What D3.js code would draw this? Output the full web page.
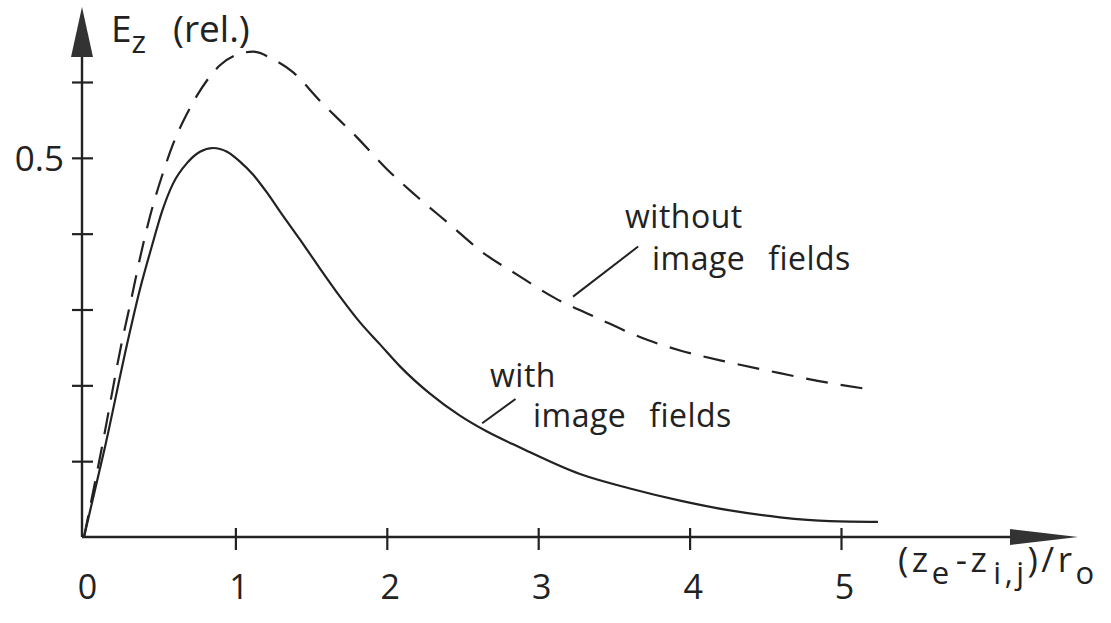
<!DOCTYPE html>
<html>
<head>
<meta charset="utf-8">
<script src="https://cdn.jsdelivr.net/npm/d3@7"></script>
<style>
	html, body { margin: 0; padding: 0; background: #fff; }
	svg { display: block; }
	text { font-family: 'Open Sans', 'DejaVu Sans', sans-serif; fill: #222; }
</style>
</head>
<body>
<svg id="chart" width="1111" height="623"></svg>
<script>
// E_z (rel.) against (z_e - z_ij)/r_o
const withoutImage = [
	[0, 0], [0.119, 0.119], [0.251, 0.258], [0.317, 0.318], [0.370, 0.368],
	[0.436, 0.423], [0.515, 0.476], [0.588, 0.518], [0.680, 0.558], [0.746, 0.582],
	[0.812, 0.602], [0.898, 0.622], [1.011, 0.636], [1.116, 0.640], [1.248, 0.630],
	[1.380, 0.613], [1.559, 0.575], [1.803, 0.527], [2.001, 0.485], [2.199, 0.449],
	[2.417, 0.412], [2.635, 0.375], [2.860, 0.346], [3.111, 0.315], [3.388, 0.289],
	[3.719, 0.260], [3.937, 0.246], [4.267, 0.230], [4.597, 0.216], [4.927, 0.203],
	[5.178, 0.195]
];
const withImage = [
	[0, 0], [0.139, 0.119], [0.291, 0.260], [0.370, 0.327], [0.449, 0.384],
	[0.515, 0.429], [0.588, 0.466], [0.680, 0.493], [0.766, 0.508], [0.852, 0.513],
	[0.945, 0.508], [1.030, 0.495], [1.116, 0.478], [1.209, 0.454], [1.295, 0.429],
	[1.427, 0.392], [1.559, 0.354], [1.691, 0.317], [1.823, 0.283], [1.955, 0.254],
	[2.087, 0.225], [2.285, 0.189], [2.483, 0.160], [2.662, 0.139], [2.880, 0.118],
	[3.276, 0.083], [3.606, 0.064], [3.937, 0.048], [4.267, 0.035], [4.597, 0.026],
	[4.927, 0.021], [5.244, 0.020]
];
const xTicks = [0, 1, 2, 3, 4, 5];
const yTicks = [0.1, 0.2, 0.3, 0.4, 0.5, 0.6];
const yLabelled = [0.5];
// leader lines of the two annotations, in data units [x1, y1, x2, y2]
const leaders = [
	[3.23, 0.317, 3.66, 0.383],
	[2.63, 0.150, 2.85, 0.182]
];

const ink = '#222';

const svg = d3.select('#chart');

const x = d3.scaleLinear().domain([0, 5]).range([84, 841]);
const y = d3.scaleLinear().domain([0, 0.6]).range([537, 82]);

const axisX = 82;   // pixel position of the vertical axis line
const axisY = y(0);

// axis lines
svg.append('line')
	.attr('x1', axisX).attr('x2', 1020)
	.attr('y1', axisY).attr('y2', axisY)
	.attr('stroke', ink).attr('stroke-width', 2.4);

svg.append('line')
	.attr('x1', axisX).attr('x2', axisX)
	.attr('y1', axisY).attr('y2', 50)
	.attr('stroke', ink).attr('stroke-width', 2.4);

// arrow heads
svg.append('path')
	.attr('d', `M${axisX},7 L${axisX - 11},57 L${axisX + 11},57 Z`)
	.attr('fill', '#333');
svg.append('path')
	.attr('d', `M1078,${axisY} L1010,${axisY - 8} L1010,${axisY + 8} Z`)
	.attr('fill', '#333');

// x axis ticks & labels
const xAxis = d3.axisBottom(x).tickValues(xTicks).tickSize(0).tickFormat(d3.format('d'));
const gx = svg.append('g').attr('transform', `translate(0,${axisY})`).call(xAxis);
gx.select('.domain').remove();
gx.selectAll('.tick line').remove();
gx.selectAll('.tick').filter(d => d > 0)
	.append('line')
	.attr('y1', -9).attr('y2', 13)
	.attr('stroke', ink).attr('stroke-width', 2.2);
gx.selectAll('.tick text')
	.attr('y', 62).attr('dy', 0).attr('x', 3)
	.attr('font-size', 34)
	.attr('font-family', null)
	.attr('fill', ink);

// y axis ticks & labels
const yAxis = d3.axisLeft(y).tickValues(yTicks).tickSize(0)
	.tickFormat(d => yLabelled.includes(d) ? d3.format('.1f')(d) : '');
const gy = svg.append('g').attr('transform', `translate(${axisX},0)`).call(yAxis);
gy.select('.domain').remove();
gy.selectAll('.tick line').remove();
gy.selectAll('.tick')
	.append('line')
	.attr('x1', -10).attr('x2', 11)
	.attr('stroke', ink).attr('stroke-width', 2.2);
gy.selectAll('.tick text')
	.attr('x', -18).attr('dy', '0.36em')
	.attr('font-size', 35)
	.attr('font-family', null)
	.attr('fill', ink);

// curves
const line = d3.line()
	.x(d => x(d[0]))
	.y(d => y(d[1]))
	.curve(d3.curveMonotoneX);

svg.append('path')
	.datum(withoutImage)
	.attr('fill', 'none')
	.attr('stroke', ink)
	.attr('stroke-width', 2.2)
	.attr('stroke-dasharray', '22 13')
	.attr('d', line);

svg.append('path')
	.datum(withImage)
	.attr('fill', 'none')
	.attr('stroke', ink)
	.attr('stroke-width', 2.2)
	.attr('d', line);

// leader lines
svg.selectAll('.leader')
	.data(leaders)
	.enter()
	.append('line')
	.attr('class', 'leader')
	.attr('x1', d => x(d[0])).attr('y1', d => y(d[1]))
	.attr('x2', d => x(d[2])).attr('y2', d => y(d[3]))
	.attr('stroke', ink).attr('stroke-width', 2);

// annotations
const note = (tx, ty, str) => svg.append('text')
	.attr('x', tx).attr('y', ty)
	.attr('font-size', 32)
	.attr('word-spacing', 14)
	.attr('letter-spacing', 0.5)
	.text(str);

note(625, 228, 'without');
note(652, 270, 'image fields');
note(490, 387, 'with');
note(533, 427, 'image fields');

// y title: E_z (rel.)
const yTitle = svg.append('text').attr('x', 111).attr('y', 42).attr('font-size', 37);
yTitle.append('tspan').text('E');
yTitle.append('tspan').attr('dy', 11).attr('font-size', 31).text('z');
yTitle.append('tspan').attr('x', 173).attr('dy', -11).text('(rel.)');

// x title: (z_e - z_i,j)/r_o
const xTitle = svg.append('text').attr('x', 898).attr('y', 572).attr('font-size', 35).attr('letter-spacing', 3.5);
xTitle.append('tspan').text('(z');
xTitle.append('tspan').attr('dy', 12).attr('font-size', 31).text('e');
xTitle.append('tspan').attr('dy', -12).attr('dx', 3).text('-z');
xTitle.append('tspan').attr('dy', 12).attr('dx', 3).attr('font-size', 31).text('i,j');
xTitle.append('tspan').attr('dy', -12).text(')/r');
xTitle.append('tspan').attr('dy', 12).attr('font-size', 31).text('o');
</script>
</body>
</html>
